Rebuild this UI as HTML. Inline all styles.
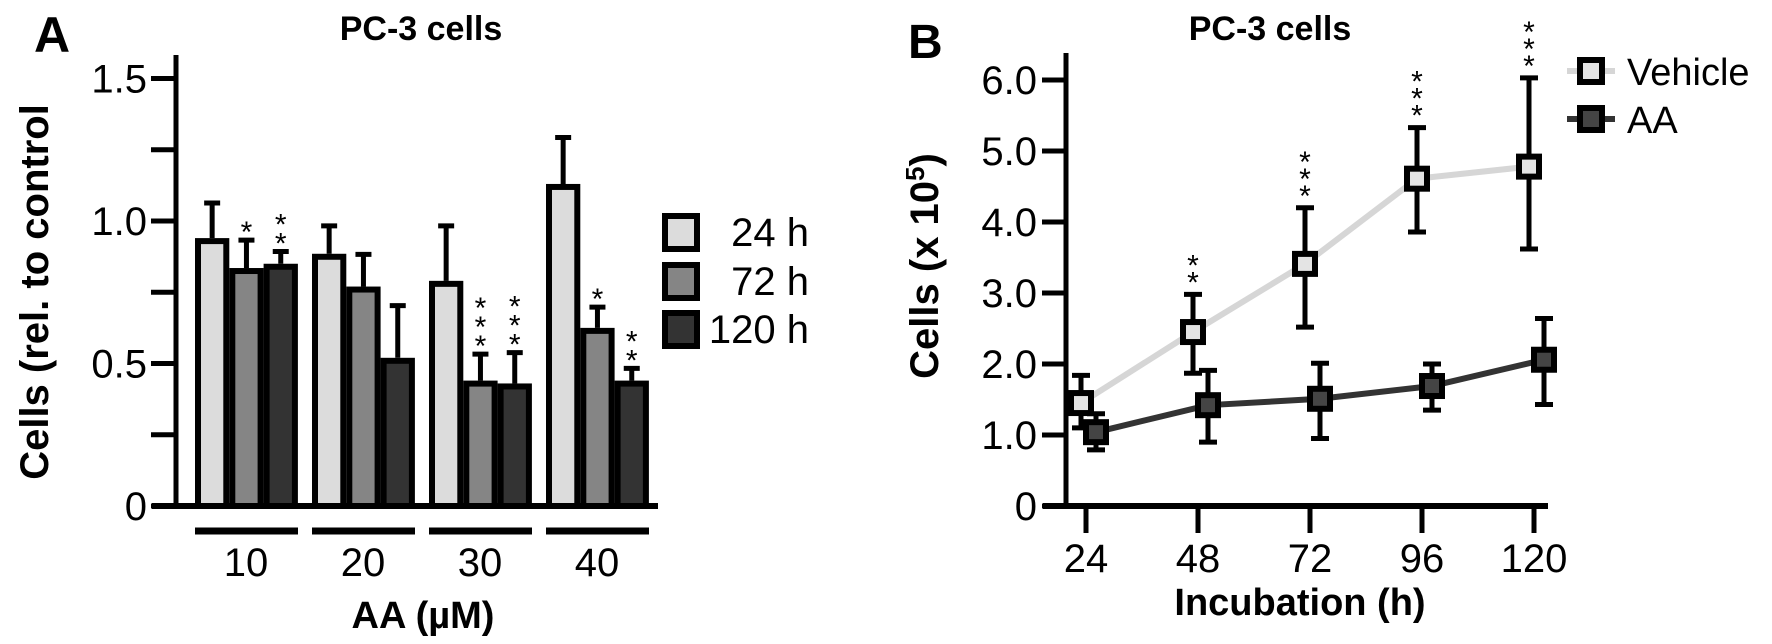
<!DOCTYPE html>
<html><head><meta charset="utf-8"><style>
html,body{margin:0;padding:0;background:#fff;}
svg{display:block;font-family:"Liberation Sans",Arial,sans-serif;}
</style></head><body>
<svg id="fig" width="1772" height="644" viewBox="0 0 1772 644" xmlns="http://www.w3.org/2000/svg">
<g id="panelA"></g>
<g id="panelB"></g>
</svg>
<script>
// Panel A data
const aGroups = ["10","20","30","40"];
const aSeries = ["24 h","72 h","120 h"];
const aMeans = [[0.94,0.835,0.85],[0.885,0.77,0.52],[0.79,0.44,0.43],[1.13,0.625,0.44]];
const aErrTop = [[1.07,0.94,0.90],[0.99,0.89,0.71],[0.99,0.54,0.545],[1.30,0.705,0.49]];
const aStars = [["","*","**"],["","",""],["","***","***"],["","*","**"]];
const aYTicks = [0,0.25,0.5,0.75,1.0,1.25,1.5];
const aYLabels = ["0","","0.5","","1.0","","1.5"];
// Panel B data
const bTimes = [24,48,72,96,120];
const bVehicle = [1.45,2.45,3.41,4.61,4.78];
const bVehHi = [1.84,2.98,4.2,5.33,6.03];
const bVehLo = [1.1,1.87,2.52,3.86,3.62];
const bAA = [1.04,1.42,1.51,1.69,2.06];
const bAAHi = [1.3,1.91,2.01,2.0,2.64];
const bAALo = [0.79,0.9,0.95,1.35,1.43];
const bStars = ["","**","***","***","***"];
const bYTicks = [0,1,2,3,4,5,6];
const bYLabels = ["0","1.0","2.0","3.0","4.0","5.0","6.0"];

const NS="http://www.w3.org/2000/svg";
function mk(parent,tag,attrs,text){const e=document.createElementNS(NS,tag);for(const k in attrs)e.setAttribute(k,attrs[k]);if(text!==undefined)e.textContent=text;parent.appendChild(e);return e;}

// ---------- Panel A ----------
const A=document.getElementById('panelA');
const ay=v=>506-v*285;
const groupLeft=[195,312,429,546], barW=34.3;
const fills=["#dcdcdc","#858585","#333333"];
let t;
t=mk(A,'text',{x:34,y:52,'font-size':50,'font-weight':'bold'},'A');

t=mk(A,'text',{x:421,y:40,'font-size':34,'font-weight':'bold','text-anchor':'middle'},'PC-3 cells');

t=mk(A,'text',{x:0,y:0,'font-size':40,'font-weight':'bold','text-anchor':'middle',transform:'translate(48,292) rotate(-90)'},'Cells (rel. to control');

t=mk(A,'text',{x:423,y:628,'font-size':38,'font-weight':'bold','text-anchor':'middle'},'AA (µM)');

aGroups.forEach((g,gi)=>{
  aSeries.forEach((s,si)=>{
    const x=groupLeft[gi]+si*barW, top=ay(aMeans[gi][si]), et=ay(aErrTop[gi][si]);
    const cx=x+barW/2;
    const l=mk(A,'line',{x1:cx,y1:et,x2:cx,y2:top,stroke:'#000','stroke-width':5});
    
    const c=mk(A,'line',{x1:cx-8,y1:et+2,x2:cx+8,y2:et+2,stroke:'#000','stroke-width':5});
    
    const r=mk(A,'rect',{x:x+3,y:top+3,width:barW-6,height:506-top-3,fill:fills[si],stroke:'#000','stroke-width':6});
    
    const st=aStars[gi][si];
    for(let k=0;k<st.length;k++){
      const sy=et-8-(st.length-1-k)*19;
      const s2=mk(A,'text',{x:cx,y:sy+12,'font-size':30,'text-anchor':'middle'},'*');
      
    }
  });
  const u=mk(A,'line',{x1:groupLeft[gi],y1:531,x2:groupLeft[gi]+103,y2:531,stroke:'#000','stroke-width':7});
  
  const lb=mk(A,'text',{x:groupLeft[gi]+51,y:576,'font-size':40,'text-anchor':'middle'},g);
  
});
let ax=mk(A,'line',{x1:176,y1:55,x2:176,y2:509,stroke:'#000','stroke-width':5});

ax=mk(A,'line',{x1:152,y1:506,x2:658,y2:506,stroke:'#000','stroke-width':6});

aYTicks.forEach((v,i)=>{
  const tk=mk(A,'line',{x1:151,y1:ay(v),x2:176,y2:ay(v),stroke:'#000','stroke-width':5});
  
  if(aYLabels[i]){const tl=mk(A,'text',{x:147,y:ay(v)+14,'font-size':40,'text-anchor':'end'},aYLabels[i]);
  }
});
const legY=[213,262,310];
aSeries.forEach((s,i)=>{
  const r=mk(A,'rect',{x:665,y:legY[i]+3,width:32,height:33,fill:fills[i],stroke:'#000','stroke-width':6});
  
  const tx=mk(A,'text',{x:809,y:legY[i]+33,'font-size':40,'text-anchor':'end'},s);
  
});

// ---------- Panel B ----------
const B=document.getElementById('panelB');
const by=v=>506-v*71;
const bx=tm=>1086+(tm-24)*(1534-1086)/96;
t=mk(B,'text',{x:908,y:58,'font-size':48,'font-weight':'bold'},'B');

t=mk(B,'text',{x:1270,y:40,'font-size':34,'font-weight':'bold','text-anchor':'middle'},'PC-3 cells');

t=mk(B,'text',{x:0,y:0,'font-size':40,'font-weight':'bold','text-anchor':'middle',transform:'translate(938,266) rotate(-90)'});

t.innerHTML='Cells (x 10<tspan font-size="26" dy="-14">5</tspan><tspan dy="14">)</tspan>';
t=mk(B,'text',{x:1300,y:615,'font-size':38,'font-weight':'bold','text-anchor':'middle'},'Incubation (h)');

ax=mk(B,'line',{x1:1066,y1:53,x2:1066,y2:509,stroke:'#000','stroke-width':5});

ax=mk(B,'line',{x1:1043,y1:506,x2:1548,y2:506,stroke:'#000','stroke-width':6});

bYTicks.forEach((v,i)=>{
  const tk=mk(B,'line',{x1:1042,y1:by(v),x2:1066,y2:by(v),stroke:'#000','stroke-width':5});
  
  const tl=mk(B,'text',{x:1037,y:by(v)+14,'font-size':40,'text-anchor':'end'},bYLabels[i]);
  
});
bTimes.forEach(tm=>{
  const tk=mk(B,'line',{x1:bx(tm),y1:506,x2:bx(tm),y2:533,stroke:'#000','stroke-width':5});
  
  const tl=mk(B,'text',{x:bx(tm),y:572,'font-size':40,'text-anchor':'middle'},String(tm));
  
});
function series(vals,hi,lo,off,lineCol,fill,name){
  const pts=bTimes.map((tm,i)=>(bx(tm)+off)+','+by(vals[i])).join(' ');
  const pl=mk(B,'polyline',{points:pts,fill:'none',stroke:lineCol,'stroke-width':6});
  
  bTimes.forEach((tm,i)=>{
    const x=bx(tm)+off;
    const e=mk(B,'line',{x1:x,y1:by(hi[i]),x2:x,y2:by(lo[i]),stroke:'#000','stroke-width':5});
    
    [hi[i],lo[i]].forEach(v=>{const c=mk(B,'line',{x1:x-9,y1:by(v),x2:x+9,y2:by(v),stroke:'#000','stroke-width':5});
      });
    const m=mk(B,'rect',{x:x-10,y:by(vals[i])-10,width:20,height:20,fill:fill,stroke:'#000','stroke-width':6});
    
  });
}
series(bVehicle,bVehHi,bVehLo,-5,'#d6d6d6','#e4e4e4','vehicle');
series(bAA,bAAHi,bAALo,10,'#333','#444','aa');
bTimes.forEach((tm,i)=>{
  const st=bStars[i];
  for(let k=0;k<st.length;k++){
    const sy=by(bVehHi[i])-12-(st.length-1-k)*17;
    const s2=mk(B,'text',{x:bx(tm)-5,y:sy+10,'font-size':30,'text-anchor':'middle'},'*');
    
  }
});
[['Vehicle',71,'#d6d6d6','#e4e4e4'],['AA',119,'#333','#444']].forEach(([lab,y,lc,fc])=>{
  const l=mk(B,'line',{x1:1567,y1:y,x2:1615,y2:y,stroke:lc,'stroke-width':6});
  
  const r=mk(B,'rect',{x:1580,y:y-11,width:22,height:22,fill:fc,stroke:'#000','stroke-width':6});
  
  const tx=mk(B,'text',{x:1627,y:y+14,'font-size':38},lab);
  
});
</script>
</body></html>
